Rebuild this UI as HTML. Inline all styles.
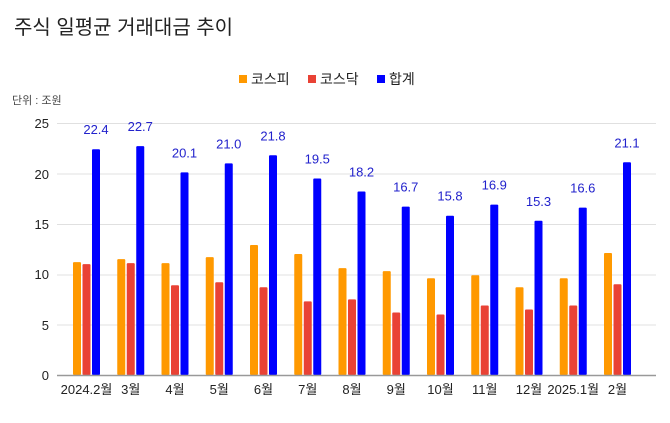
<!DOCTYPE html>
<html><head><meta charset="utf-8"><style>
body{margin:0;background:#fff;}
svg text{font-family:"Liberation Sans","Noto Sans CJK KR",sans-serif;}
</style></head><body>
<svg width="670" height="418" xmlns="http://www.w3.org/2000/svg">
<rect width="670" height="418" fill="#fff"/>
<text x="14" y="34" font-size="20" fill="#222">주식 일평균 거래대금 추이</text>
<rect x="239" y="75" width="8" height="8" fill="#ff9900"/>
<text x="251" y="84" font-size="14" fill="#222">코스피</text>
<rect x="308" y="75" width="8" height="8" fill="#e94235"/>
<text x="320" y="84" font-size="14" fill="#222">코스닥</text>
<rect x="377" y="75" width="8" height="8" fill="#0000ff"/>
<text x="389" y="84" font-size="14" fill="#222">합계</text>
<text x="12" y="104" font-size="11" fill="#444">단위 : 조원</text>
<g stroke="#e0e0e0" stroke-width="1">
<line x1="57" x2="656" y1="123.5" y2="123.5"/>
<line x1="57" x2="656" y1="174" y2="174"/>
<line x1="57" x2="656" y1="224.5" y2="224.5"/>
<line x1="57" x2="656" y1="275" y2="275"/>
<line x1="57" x2="656" y1="325" y2="325"/>
</g>
<g font-size="13" fill="#222" text-anchor="end">
<text x="49" y="128">25</text><text x="49" y="179">20</text><text x="49" y="229">15</text>
<text x="49" y="279">10</text><text x="49" y="330">5</text><text x="49" y="380">0</text>
</g>
<g id="bars"></g>
<line x1="57" x2="656" y1="375.5" y2="375.5" stroke="#999" stroke-width="1.5"/>
<g id="labels" font-size="13" text-anchor="middle"></g>
<script>
var d=[["2024.2월",11.2,11.0,22.4],["3월",11.5,11.1,22.7],["4월",11.1,8.9,20.1],["5월",11.7,9.2,21.0],["6월",12.9,8.7,21.8],["7월",12.0,7.3,19.5],["8월",10.6,7.5,18.2],["9월",10.3,6.2,16.7],["10월",9.6,6.0,15.8],["11월",9.9,6.9,16.9],["12월",8.7,6.5,15.3],["2025.1월",9.6,6.9,16.6],["2월",12.1,9.0,21.1]];
var ns="http://www.w3.org/2000/svg",b=document.getElementById("bars"),l=document.getElementById("labels");
function r(x,v,c){var e=document.createElementNS(ns,"rect");var h=v*10.08;e.setAttribute("x",x);e.setAttribute("y",375-h);e.setAttribute("width",8);e.setAttribute("height",h);e.setAttribute("fill",c);e.setAttribute("rx",1);b.appendChild(e);}
function t(x,y,s,c){var e=document.createElementNS(ns,"text");e.setAttribute("x",x);e.setAttribute("y",y);e.setAttribute("fill",c);e.textContent=s;l.appendChild(e);}
d.forEach(function(g,i){var c=86.5+i*44.25;r(c-13.5,g[1],"#ff9900");r(c-4,g[2],"#e94235");r(c+5.5,g[3],"#0000ff");
t(c+9.5,375-g[3]*10.08-15,g[3].toFixed(1),"#2222cc");t(c,394,g[0],"#222");});
</script>
</svg>
</body></html>
